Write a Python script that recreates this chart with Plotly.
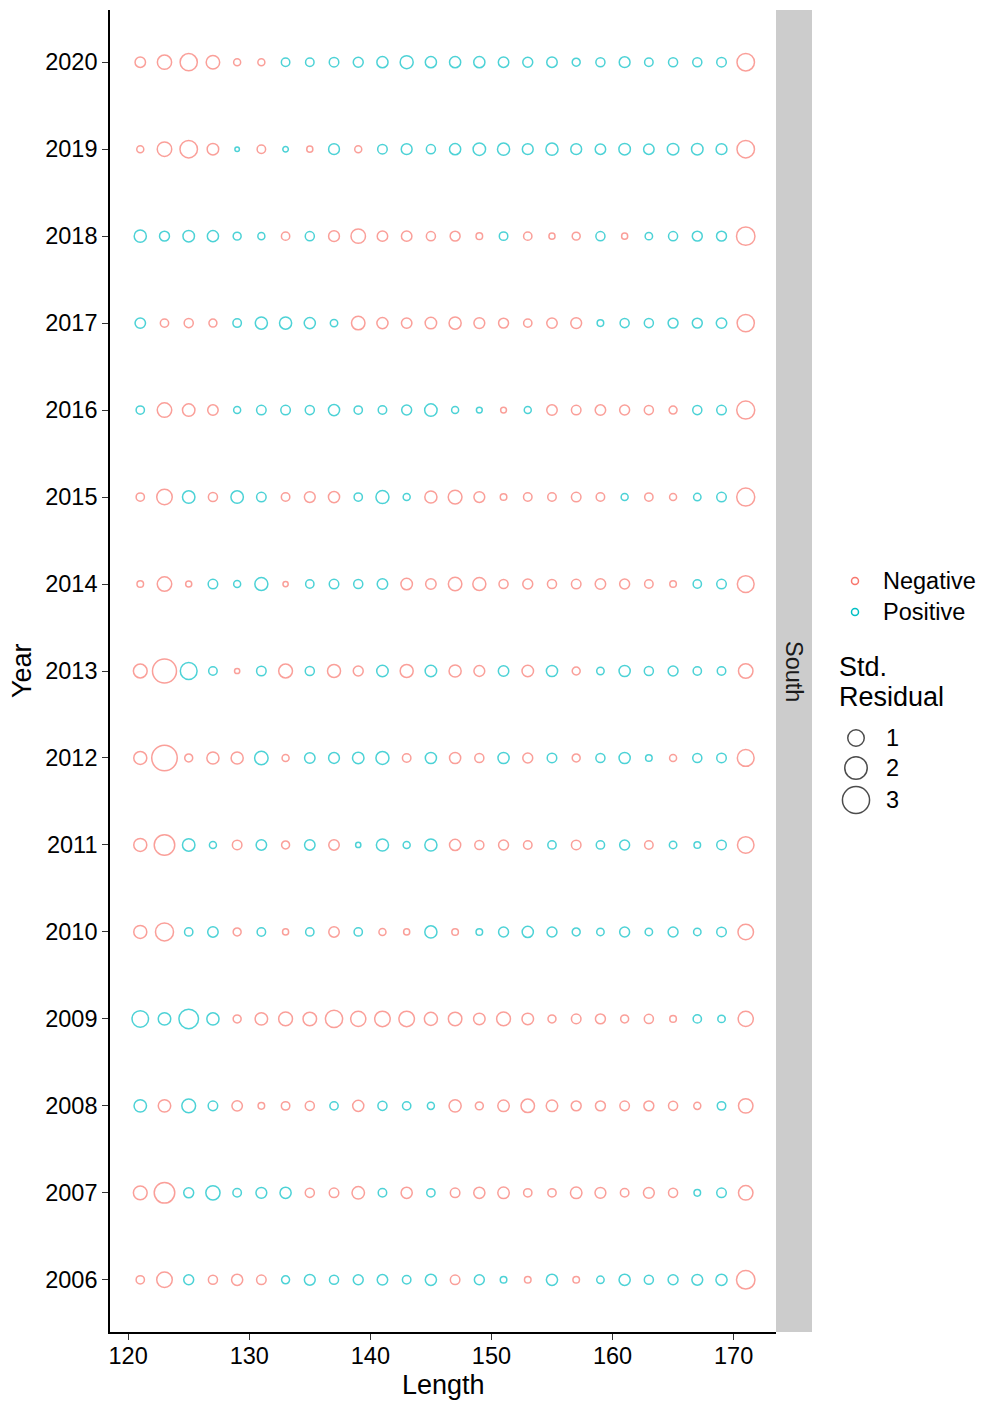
import numpy as np
import plotly.graph_objects as go

# Length bins and years of the residual grid
lengths = list(range(121, 172, 2))
years = list(range(2006, 2021))

# Standardised residuals by year (one value per length bin, 121..171)
res_2006 = [-0.19, -0.87, 0.30, -0.24, -0.40, -0.27, 0.17, 0.37, 0.24, 0.30, 0.34, 0.20, 0.40,
            -0.27, 0.30, 0.10, -0.10, 0.40, -0.10, 0.14, 0.40, 0.24, 0.30, 0.37, 0.40, -1.29]
res_2007 = [-0.66, -1.63, 0.30, 0.71, 0.20, 0.37, 0.40, -0.24, -0.27, -0.52, 0.20, -0.40, 0.19,
            -0.27, -0.40, -0.43, -0.19, -0.19, -0.43, -0.37, -0.20, -0.37, -0.24, 0.10, 0.27, -0.74]
res_2008 = [0.52, -0.52, 0.66, 0.27, -0.34, -0.10, -0.20, -0.24, 0.19, -0.40, 0.24, 0.19, 0.12,
            -0.49, -0.17, -0.43, -0.63, -0.43, -0.30, -0.30, -0.27, -0.30, -0.24, -0.12, 0.20, -0.74]
res_2009 = [1.00, 0.52, 1.46, 0.49, -0.17, -0.52, -0.66, -0.63, -1.10, -0.82, -0.87, -0.87, -0.58,
            -0.63, -0.43, -0.66, -0.43, -0.17, -0.27, -0.30, -0.17, -0.24, -0.10, 0.19, 0.14, -0.82]
res_2010 = [-0.58, -1.22, 0.19, 0.34, -0.17, 0.20, -0.08, 0.19, -0.34, 0.19, -0.12, -0.08, 0.49,
            -0.10, 0.10, 0.30, 0.40, 0.30, 0.17, 0.14, 0.30, 0.14, 0.30, 0.14, 0.27, -0.87]
res_2011 = [-0.58, -1.63, 0.52, 0.12, -0.27, 0.34, -0.17, 0.34, -0.34, 0.05, 0.49, 0.12, 0.49,
            -0.40, -0.24, -0.30, -0.20, 0.19, -0.27, 0.19, 0.30, -0.20, 0.14, 0.10, 0.27, -1.00]
res_2012 = [-0.58, -2.63, -0.17, -0.49, -0.49, 0.63, -0.12, 0.34, 0.37, 0.43, 0.58, -0.20, 0.40,
            -0.40, -0.24, 0.40, -0.30, 0.27, -0.17, 0.24, 0.40, 0.10, -0.12, 0.24, 0.27, -1.04]
res_2013 = [-0.66, -2.30, 1.04, 0.20, -0.05, 0.27, -0.66, 0.24, -0.58, -0.30, 0.43, -0.58, 0.43,
            -0.49, -0.37, 0.34, -0.43, 0.40, -0.17, 0.14, 0.40, 0.24, 0.30, 0.19, 0.20, -0.74]
res_2014 = [-0.10, -0.74, -0.08, 0.27, 0.12, 0.58, -0.05, 0.19, 0.27, 0.24, 0.34, -0.43, -0.34,
            -0.63, -0.58, -0.24, -0.30, -0.24, -0.27, -0.34, -0.30, -0.20, -0.10, 0.19, 0.27, -1.04]
res_2015 = [-0.19, -0.87, 0.52, -0.24, 0.52, 0.27, -0.20, -0.37, -0.40, 0.19, 0.58, 0.12, -0.49,
            -0.66, -0.37, -0.10, -0.20, -0.20, -0.27, -0.20, 0.12, -0.19, -0.12, 0.14, 0.27, -1.22]
res_2016 = [0.19, -0.74, -0.52, -0.34, 0.12, 0.27, 0.27, 0.24, 0.40, 0.19, 0.20, 0.30, 0.52,
            0.12, 0.07, -0.07, 0.12, -0.34, -0.27, -0.34, -0.30, -0.24, -0.17, 0.24, 0.27, -1.22]
res_2017 = [0.34, -0.19, -0.24, -0.17, 0.20, 0.49, 0.49, 0.40, 0.14, -0.63, -0.40, -0.34, -0.43,
            -0.49, -0.37, -0.30, -0.19, -0.34, -0.37, 0.10, 0.24, 0.24, 0.30, 0.30, 0.34, -1.10]
res_2018 = [0.49, 0.30, 0.43, 0.40, 0.17, 0.12, -0.19, 0.24, -0.37, -0.74, -0.34, -0.34, -0.24,
            -0.30, -0.10, 0.20, -0.19, -0.08, -0.17, 0.24, -0.08, 0.14, 0.24, 0.30, 0.30, -1.29]
res_2019 = [-0.12, -0.74, -1.14, -0.43, 0.03, -0.20, 0.06, -0.08, 0.37, -0.12, 0.27, 0.37, 0.24,
            0.40, 0.52, 0.49, 0.37, 0.49, 0.37, 0.34, 0.43, 0.34, 0.43, 0.43, 0.37, -1.14]
res_2020 = [-0.34, -0.71, -1.10, -0.63, -0.12, -0.12, 0.20, 0.20, 0.27, 0.30, 0.40, 0.58, 0.40,
            0.40, 0.40, 0.34, 0.30, 0.34, 0.17, 0.24, 0.37, 0.20, 0.24, 0.24, 0.27, -1.14]

size_breaks = [1, 2, 3]
region = "South"

residuals = [res_2006, res_2007, res_2008, res_2009, res_2010, res_2011, res_2012, res_2013,
             res_2014, res_2015, res_2016, res_2017, res_2018, res_2019, res_2020]

NEG_COL = "#F8766D"
POS_COL = "#00BFC4"
STROKE = 1.5
FONT = "Liberation Sans, Arial, sans-serif"
TXT = 23.5
TITLE = 27


def bubble_px(v):
    """Marker diameter (px) for a residual magnitude."""
    return 3.5 + 14.5 * np.sqrt(np.abs(np.asarray(v, dtype=float))) - STROKE


# long format
xs, ys, vs = [], [], []
for yr, row in zip(years, residuals):
    for ln, v in zip(lengths, row):
        xs.append(ln)
        ys.append(yr)
        vs.append(v)
xs, ys, vs = np.array(xs), np.array(ys), np.array(vs)
neg = vs < 0

W, H = 981, 1403
ML, MR, MT, MB = 110, 0, 10, 71
PW, PH = W - ML - MR, H - MT - MB
panel_right = 776
strip_right = 812


def px_x(p):
    return (p - ML) / PW


def px_y(p):
    return (MT + PH - p) / PH


fig = go.Figure()
for mask, name, col in [(neg, "Negative", NEG_COL), (~neg, "Positive", POS_COL)]:
    fig.add_trace(go.Scatter(
        x=xs[mask], y=ys[mask], mode="markers", name=name, showlegend=False,
        marker=dict(symbol="circle-open", size=bubble_px(vs[mask]), color=col,
                    line=dict(width=STROKE, color=col)),
        xaxis="x", yaxis="y", cliponaxis=False,
    ))

# legend keys, drawn on a small pixel-scaled axis pair at the right
key_x_col = [855, 855]
key_y_col = [581, 612]
fig.add_trace(go.Scatter(
    x=key_x_col, y=key_y_col, mode="markers", showlegend=False, hoverinfo="skip",
    marker=dict(symbol="circle-open", size=7, color=[NEG_COL, POS_COL],
                line=dict(width=STROKE)),
    xaxis="x2", yaxis="y2",
))
key_y_size = [738, 768, 800]
fig.add_trace(go.Scatter(
    x=[856] * 3, y=key_y_size, mode="markers", showlegend=False, hoverinfo="skip",
    marker=dict(symbol="circle-open", size=bubble_px(size_breaks), color="black",
                line=dict(width=STROKE)),
    xaxis="x2", yaxis="y2",
))

annotations = []
for label, yy in zip(["Negative", "Positive"], key_y_col):
    annotations.append(dict(x=881, y=yy, xref="x2", yref="y2", text=label, showarrow=False,
                            xanchor="left", yanchor="middle",
                            font=dict(family=FONT, size=TXT, color="black")))
for label, yy in zip(["Std.", "Residual"], [667, 697]):
    annotations.append(dict(x=837, y=yy, xref="x2", yref="y2", text=label, showarrow=False,
                            xanchor="left", yanchor="middle",
                            font=dict(family=FONT, size=TITLE, color="black")))
for b, yy in zip(size_breaks, key_y_size):
    annotations.append(dict(x=884, y=yy, xref="x2", yref="y2", text=str(b), showarrow=False,
                            xanchor="left", yanchor="middle",
                            font=dict(family=FONT, size=TXT, color="black")))

# axis titles
annotations.append(dict(x=px_x((ML + panel_right) / 2), y=px_y(1385), xref="paper", yref="paper",
                        text="Length", showarrow=False, xanchor="center", yanchor="middle",
                        font=dict(family=FONT, size=TITLE, color="black")))
annotations.append(dict(x=px_x(22), y=px_y((MT + MT + PH) / 2), xref="paper", yref="paper",
                        text="Year", showarrow=False, textangle=-90,
                        xanchor="center", yanchor="middle",
                        font=dict(family=FONT, size=TITLE, color="black")))
# facet strip label
annotations.append(dict(x=px_x((panel_right + strip_right) / 2), y=0.5, xref="paper", yref="paper",
                        text=region, showarrow=False, textangle=90,
                        xanchor="center", yanchor="middle",
                        font=dict(family=FONT, size=TXT, color="#1A1A1A")))

shapes = [dict(type="rect", xref="paper", yref="paper",
               x0=px_x(panel_right), x1=px_x(strip_right), y0=0, y1=1,
               fillcolor="#CCCCCC", line=dict(width=0), layer="below")]

axis_common = dict(showgrid=False, zeroline=False, showline=True, linecolor="black",
                   linewidth=1.6, ticks="outside", ticklen=6, tickwidth=1.4,
                   tickcolor="#333333", tickfont=dict(family=FONT, size=TXT, color="black"),
                   mirror=False)

fig.update_layout(
    width=W, height=H,
    margin=dict(l=ML, r=MR, t=MT, b=MB),
    paper_bgcolor="white", plot_bgcolor="white",
    showlegend=False,
    xaxis=dict(domain=[0, px_x(panel_right)], range=[118.5, 173.5],
               tickvals=[120, 130, 140, 150, 160, 170], anchor="y",
               ticklabelstandoff=-4, **axis_common),
    yaxis=dict(domain=[0, 1], range=[2005.4, 2020.6], tickvals=years, anchor="x",
               **axis_common),
    xaxis2=dict(domain=[px_x(830), 1], range=[830, 981], visible=False, anchor="y2"),
    yaxis2=dict(domain=[px_y(830), px_y(560)], range=[830, 560], visible=False, anchor="x2"),
    annotations=annotations,
    shapes=shapes,
)

fig.write_html("out.html")
